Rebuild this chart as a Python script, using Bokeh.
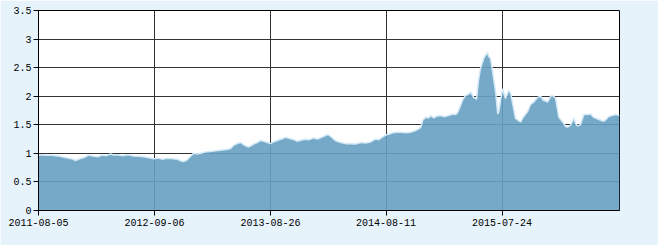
from bokeh.plotting import figure
from bokeh.models import ColumnDataSource, Range1d, FixedTicker
from bokeh.embed import file_html
from bokeh.resources import INLINE

# trading-day index and net value
day_idx = [0, 4, 15, 25, 35, 46, 60, 71, 77, 87, 96, 104, 112, 123, 133, 141, 150, 156, 164, 175,
           185, 191, 197, 208, 218, 229, 239, 249, 258, 266, 274, 283, 289, 295, 301, 308, 316, 322,
           330, 341, 351, 362, 372, 382, 393, 399, 407, 416, 420, 426, 436, 441, 449, 455, 461, 468,
           474, 482, 488, 497, 505, 513, 522, 530, 538, 544, 555, 563, 571, 580, 588, 601, 607, 617,
           628, 638, 648, 659, 669, 680, 690, 700, 707, 715, 721, 729, 736, 744, 752, 763, 773, 781,
           788, 794, 798, 804, 810, 815, 821, 825, 831, 835, 844, 850, 856, 860, 867, 871, 877, 881,
           887, 894, 898, 904, 910, 914, 918, 925, 929, 933, 935, 939, 943, 950, 954, 956, 960, 964,
           970, 977, 981, 985, 991, 997, 1002, 1006, 1016, 1022, 1029, 1037, 1043, 1049, 1058, 1064,
           1068, 1074, 1081, 1089, 1095, 1099, 1106, 1112, 1116, 1120, 1126, 1133, 1141, 1147, 1153,
           1162, 1168, 1174, 1180, 1184, 1191, 1199, 1207]
nav = [0.96, 0.975, 0.965, 0.97, 0.96, 0.945, 0.92, 0.90, 0.875, 0.91, 0.93, 0.97, 0.955, 0.94, 0.97,
       0.96, 0.99, 0.97, 0.975, 0.96, 0.975, 0.965, 0.955, 0.95, 0.94, 0.925, 0.905, 0.92, 0.895, 0.915,
       0.91, 0.90, 0.895, 0.87, 0.855, 0.88, 0.95, 1.00, 0.99, 1.01, 1.03, 1.035, 1.05, 1.06, 1.07,
       1.085, 1.15, 1.18, 1.19, 1.15, 1.11, 1.13, 1.17, 1.19, 1.225, 1.21, 1.195, 1.17, 1.20, 1.23,
       1.25, 1.28, 1.26, 1.24, 1.21, 1.23, 1.245, 1.24, 1.27, 1.25, 1.28, 1.33, 1.295, 1.22, 1.19,
       1.17, 1.17, 1.165, 1.19, 1.18, 1.20, 1.25, 1.24, 1.29, 1.32, 1.34, 1.36, 1.37, 1.37, 1.36,
       1.37, 1.39, 1.42, 1.45, 1.575, 1.63, 1.62, 1.66, 1.62, 1.64, 1.66, 1.66, 1.64, 1.66, 1.67, 1.69,
       1.68, 1.72, 1.84, 1.93, 2.01, 2.04, 2.07, 1.98, 1.95, 2.27, 2.48, 2.66, 2.72, 2.76, 2.70, 2.66,
       2.45, 2.05, 1.69, 1.72, 1.93, 2.13, 1.96, 2.10, 2.05, 1.87, 1.61, 1.57, 1.55, 1.62, 1.73, 1.85,
       1.90, 1.98, 2.00, 1.93, 1.90, 2.00, 2.01, 1.97, 1.63, 1.55, 1.47, 1.46, 1.50, 1.62, 1.52, 1.48,
       1.50, 1.68, 1.68, 1.69, 1.63, 1.60, 1.58, 1.56, 1.60, 1.64, 1.66, 1.68, 1.66]

tick_idx = [0, 241, 482, 722, 963]
tick_labels = ["2011-08-05", "2012-09-06", "2013-08-26", "2014-08-11", "2015-07-24"]
y_ticks = [0, 0.5, 1, 1.5, 2, 2.5, 3, 3.5]
y_labels = ["0", "0.5", "1", "1.5", "2", "2.5", "3", "3.5"]

src = ColumnDataSource(dict(x=day_idx, y=nav))

p = figure(width=658, height=245, output_backend="svg", toolbar_location=None,
           x_range=Range1d(0, 1207), y_range=Range1d(0, 3.5),
           min_border_left=38, min_border_right=39, min_border_top=10, min_border_bottom=35)
p.border_fill_color = "#E6F3FB"
p.background_fill_color = "white"
p.outline_line_color = "black"
p.outline_line_width = 1

p.varea(x="x", y1=0, y2="y", source=src, fill_color=(103, 159, 193), fill_alpha=0.9)
p.line(x="x", y="y", source=src, line_color="#d3e9f7", line_width=1.5)

for g in (p.xgrid, p.ygrid):
    g.grid_line_color = "#333333"
    g.grid_line_width = 1
p.xgrid.ticker = FixedTicker(ticks=tick_idx)
p.ygrid.ticker = FixedTicker(ticks=y_ticks)

xa = p.xaxis[0]
xa.ticker = FixedTicker(ticks=tick_idx)
xa.major_label_overrides = {t: l for t, l in zip(tick_idx, tick_labels)}
ya = p.yaxis[0]
ya.ticker = FixedTicker(ticks=y_ticks)
ya.major_label_overrides = {t: l for t, l in zip(y_ticks, y_labels)}

for ax in (xa, ya):
    ax.axis_line_color = "black"
    ax.major_tick_line_color = "black"
    ax.minor_tick_line_color = None
    ax.major_tick_in = 0
    ax.major_label_text_font = "Liberation Mono"
    ax.major_label_text_font_size = "10px"
    ax.major_label_text_color = "black"
xa.major_tick_out = 5
xa.major_label_standoff = 3
ya.major_tick_out = 5
ya.major_label_standoff = 2

open("out.html", "w").write(file_html(p, INLINE))
